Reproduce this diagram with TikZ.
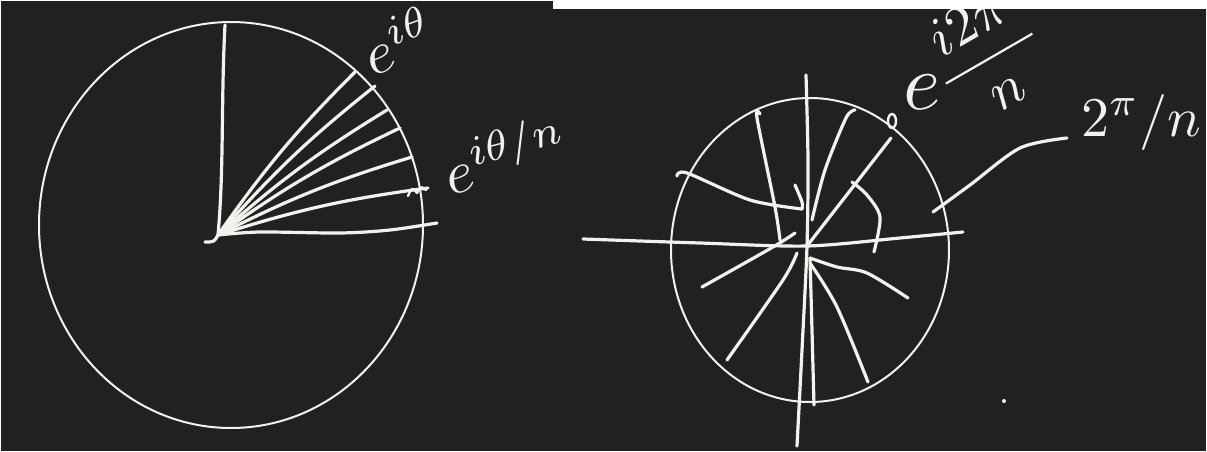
\documentclass[tikz,border=0pt]{standalone}
\usepackage{tikz}
\usetikzlibrary{positioning}
\definecolor{board}{HTML}{222120}
\definecolor{chalk}{HTML}{F1F1ED}

\begin{document}
\begin{tikzpicture}[x=0.5pt,y=-0.5pt,
 pen/.style={draw=chalk,line width=1.6pt,line cap=round,line join=round},
 rim/.style={draw=chalk,line width=1pt},
 lbl/.style={text=chalk,inner sep=0pt,transform shape}]
\useasboundingbox (0,0) rectangle (1207,451);
\fill[white] (0,0) rectangle (1207,451);
\fill[board] (1,1) rectangle (553,451);
\fill[board] (553,9) rectangle (1206,451);
% left panel: the fan of roots
\coordinate (v) at (218,235);
\draw[rim] (231,225) ellipse [x radius=192,y radius=203];
\draw[pen] (225,25) .. controls (221,100) and (224,170) .. (v);
\draw[pen] (v) .. controls (214,242) .. (205,242);
\foreach \a/\b in {355/72,375/86,387/110,400/128,412/157,428/188}
  \draw[pen] (v) to[bend left=5] (\a,\b);
\draw[pen] plot[smooth] coordinates {(v) (260,232) (340,233) (390,230) (437,223)};
\draw[pen,line width=1.2pt] (408,196) .. controls (412,187) .. (417,193) .. controls (421,186) .. (426,190);
\node[lbl,scale=3,rotate=20] (full) at (398,40) {$e^{i\theta}$};
\node[lbl,scale=3,rotate=15] (part) at (505,153) {$e^{i\theta/n}$};
% right panel: n-th roots of unity
\begin{scope}
\clip (553,9) rectangle (1206,451);
\coordinate (o) at (807,246);
\draw[rim] (810,250) ellipse [x radius=139,y radius=152];
\draw[pen] plot[smooth] coordinates {(583,239) (700,243) (o) (900,238) (963,232)};
\draw[pen] plot[smooth] coordinates {(806,75) (808,160) (o) (802,350) (797,446)};
\draw[pen] plot[smooth] coordinates {(810,258) (812,330) (814,405)};
\draw[pen] plot[smooth] coordinates {(760,114) (757,118) (775,207) (780,240)};
\draw[pen] plot[smooth] coordinates {(855,110) (846,118) (825,170) (812,220)};
\draw[pen] (o) -- (891,138);
\draw[pen,line width=1.2pt] (892,121) ellipse [x radius=4,y radius=7];
\draw[pen] plot[smooth] coordinates {(852,182) (867,195) (880,217) (874,252)};
\draw[pen] plot[smooth] coordinates {(677,176) (687,173) (750,200) (802,209)};
\draw[pen] plot[smooth] coordinates {(795,185) (802,202) (802,209)};
\draw[pen] plot[smooth] coordinates {(795,233) (773,247) (702,287)};
\draw[pen] plot[smooth] coordinates {(797,253) (783,280) (727,360)};
\draw[pen] plot[smooth] coordinates {(810,258) (837,267) (867,273) (908,298)};
\draw[pen] plot[smooth] coordinates {(810,263) (837,307) (868,382)};
\draw[pen] plot[smooth] coordinates {(933,212) (970,185) (1020,148) (1067,138)};
\fill[chalk] (1004,401) circle [radius=2];
\node[lbl,scale=4] (base) at (922,92) {$e$};
\node[lbl,scale=2.8,rotate=30] (expo) at (987,55) {$\displaystyle\frac{\,i2\pi\,}{n}$};
\node[lbl,scale=2.8] (turn) at (1141,122) {$2^{\pi}/n$};
\end{scope}
\end{tikzpicture}
\end{document}
